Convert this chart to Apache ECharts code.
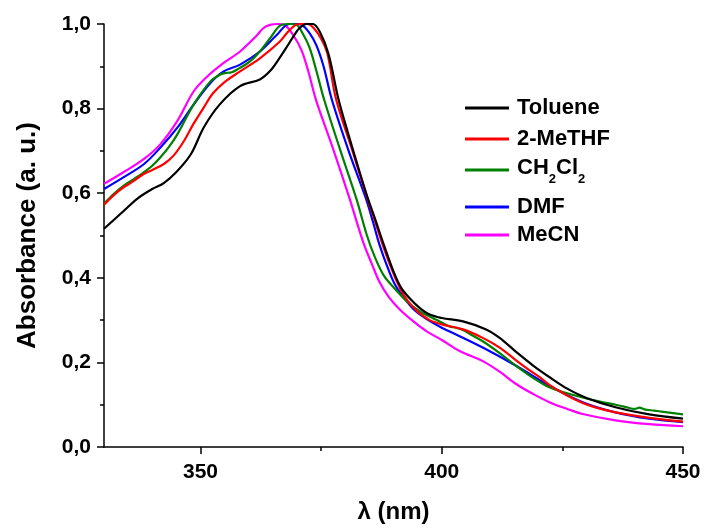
<!DOCTYPE html>
<html>
<head>
<meta charset="utf-8">
<script src="https://cdn.jsdelivr.net/npm/echarts@6/dist/echarts.min.js"></script>
<style>
html,body{margin:0;padding:0;background:#fff;}
#c{width:705px;height:529px;}
</style>
</head>
<body>
<div id="c"></div>
<script>
// ---- data ----
var seriesNames = ['Toluene', '2-MeTHF', 'CH2Cl2', 'DMF', 'MeCN'];
var seriesColors = ['#000000', '#ff0000', '#008000', '#0000ff', '#ff00ff'];

var tolL = [330,333.5,337,340,342.4,345,348,350.7,354,358.2,362.3,364.5,366.4,368,369.5,370.5,372,373.3,374.7,376.5,378.6,380.5,382.5,384.7,386,388,390,391.5,393.3,395.4,397.5,400,404.4,409.2,412,415.4,419,423,426,430,436,443,450];
var tolA = [0.516,0.552,0.588,0.61,0.624,0.65,0.692,0.756,0.81,0.853,0.869,0.89,0.92,0.948,0.975,0.99,1.0,1.0,0.982,0.93,0.822,0.745,0.668,0.587,0.545,0.478,0.415,0.378,0.352,0.329,0.313,0.305,0.297,0.278,0.258,0.225,0.192,0.16,0.138,0.116,0.094,0.077,0.067];

var redL = [330,333,336,338.3,340,342.4,344.5,346.6,348.6,350.7,352.5,354.8,358.2,362.3,366.4,368,369.5,370.5,372.2,373.5,375,376.3,378.1,381.5,384.6,386,388,390,391.5,393,395,397.5,400,404.4,408.5,412,415.4,418,420.3,422.3,425.8,429.2,432,436,443,450];
var redA = [0.573,0.605,0.628,0.646,0.655,0.669,0.69,0.724,0.765,0.803,0.835,0.861,0.888,0.919,0.958,0.98,0.996,1.0,1.0,0.99,0.965,0.93,0.822,0.7,0.587,0.54,0.47,0.41,0.372,0.345,0.32,0.3,0.29,0.278,0.258,0.235,0.205,0.183,0.165,0.147,0.123,0.104,0.093,0.082,0.069,0.06];

var grnL = [330,332,334.1,336,338.3,340,341.7,343.5,345.2,348.6,352.1,354,355,356.5,358,360.2,362.3,364.4,366.8,368.5,369.9,371.3,372.6,374,375.6,378.9,382.3,384.5,386.1,388,390.6,393,395.4,399,401.6,403,404.5,406,408.5,412,415.4,419,422.3,426,429.2,433,436,438,440,441,442,444,446,450];
var grnA = [0.575,0.598,0.618,0.632,0.65,0.665,0.685,0.71,0.739,0.81,0.865,0.88,0.884,0.886,0.895,0.911,0.935,0.966,0.998,1.0,0.998,0.975,0.944,0.89,0.822,0.704,0.587,0.5,0.45,0.405,0.37,0.342,0.321,0.3,0.285,0.282,0.276,0.266,0.25,0.222,0.192,0.163,0.141,0.127,0.117,0.107,0.1,0.095,0.09,0.093,0.089,0.086,0.083,0.077];

var bluL = [330,334.1,338.3,341.7,345.2,348.6,352.1,354.8,358.2,362.3,365.8,368.4,370,371,372.5,374,375.5,377.2,380.7,384.3,385.8,387.1,389,390.5,392.7,394.5,396.8,400,403.7,408.5,415.4,422.3,429.2,436,443,450];
var bluA = [0.61,0.638,0.669,0.708,0.755,0.81,0.861,0.888,0.904,0.935,0.974,1.0,1.0,0.998,0.98,0.95,0.9,0.822,0.7,0.587,0.53,0.478,0.418,0.38,0.345,0.322,0.303,0.282,0.262,0.235,0.192,0.145,0.106,0.082,0.067,0.059];

var magL = [330,334.1,338.3,341.7,345.2,348.6,351.4,354.8,358.2,361.6,363,364.4,366,367.5,369.2,370.9,372.3,373.9,377.5,380.9,383.7,385.5,387.1,389,391.3,394,396.8,400,403.7,408.5,412,415.4,419,422.3,426,429.2,436,443,450];
var magA = [0.622,0.65,0.681,0.716,0.771,0.841,0.876,0.908,0.935,0.972,0.99,0.998,1.0,0.997,0.974,0.939,0.89,0.822,0.704,0.587,0.485,0.433,0.39,0.355,0.325,0.298,0.274,0.253,0.227,0.203,0.178,0.149,0.125,0.106,0.09,0.078,0.063,0.054,0.049];

var xMajorTicks = [350, 400, 450];
var xMinorTicks = [375, 425];

// ---- build chart ----
var waveLists = [tolL, redL, grnL, bluL, magL];
var absLists = [tolA, redA, grnA, bluA, magA];
function pairs(xs, ys) { return xs.map(function (x, i) { return [x, ys[i]]; }); }

var FONT = 'Liberation Sans, Arial, Helvetica, sans-serif';
var chart = echarts.init(document.getElementById('c'), null, {renderer: 'canvas'});

var series = seriesNames.map(function (n, i) {
  return {
    name: n, type: 'line', xAxisIndex: 0, yAxisIndex: 0,
    data: pairs(waveLists[i], absLists[i]),
    showSymbol: false, smooth: 0.35, clip: false,
    lineStyle: {color: seriesColors[i], width: 2.2},
    itemStyle: {color: seriesColors[i]},
    emphasis: {disabled: true}, z: 10 - i
  };
});

var legendTops = [97, 128, 157, 196, 224];
var legends = seriesNames.map(function (n, i) {
  var lg = {
    data: [n], left: 465, top: legendTops[i], padding: 0, orient: 'vertical',
    icon: 'rect', itemWidth: 44, itemHeight: 3,
    textStyle: {fontFamily: FONT, fontSize: 22, fontWeight: 'bold', color: '#000', padding: [0, 0, 0, 3]},
    selectedMode: false
  };
  if (n === 'CH2Cl2') {
    lg.formatter = function () { return '{n|CH}{s|2}{n|Cl}{s|2}'; };
    lg.textStyle.rich = {
      n: {fontFamily: FONT, fontSize: 22, fontWeight: 'bold', color: '#000', lineHeight: 26, verticalAlign: 'top'},
      s: {fontFamily: FONT, fontSize: 13, fontWeight: 'bold', color: '#000', lineHeight: 14, padding: [16, 0, 0, 0], verticalAlign: 'top'}
    };
  }
  return lg;
});

chart.setOption({
  animation: false,
  backgroundColor: '#fff',
  grid: {left: 104, right: 22, top: 24, bottom: 79, containLabel: false},
  legend: legends,
  xAxis: [{
    type: 'value', min: 330, max: 450, position: 'bottom',
    name: 'λ (nm)', nameLocation: 'middle', nameGap: 53,
    nameTextStyle: {fontFamily: FONT, fontSize: 24, fontWeight: 'bold', color: '#000'},
    axisLine: {show: true, onZero: false, lineStyle: {color: '#000', width: 1.5}},
    axisTick: {show: true, length: 7, customValues: xMajorTicks, lineStyle: {color: '#000', width: 1.5}},
    axisLabel: {show: true, customValues: xMajorTicks, margin: 15, fontFamily: FONT, fontSize: 21, fontWeight: 'bold', color: '#000'},
    splitLine: {show: false}
  }, {
    type: 'value', min: 330, max: 450, position: 'bottom',
    axisLine: {show: false},
    axisTick: {show: true, length: 4, customValues: xMinorTicks, lineStyle: {color: '#000', width: 1.5}},
    axisLabel: {show: false},
    splitLine: {show: false}
  }],
  yAxis: [{
    type: 'value', min: 0, max: 1, interval: 0.2,
    name: 'Absorbance (a. u.)', nameLocation: 'middle', nameGap: 63,
    nameTextStyle: {fontFamily: FONT, fontSize: 26, fontWeight: 'bold', color: '#000'},
    axisLine: {show: true, lineStyle: {color: '#000', width: 1.5}},
    axisTick: {show: true, length: 7, lineStyle: {color: '#000', width: 1.5}},
    minorTick: {show: true, splitNumber: 2, length: 4, lineStyle: {color: '#000', width: 1.5}},
    axisLabel: {margin: 13, fontFamily: FONT, fontSize: 21, fontWeight: 'bold', color: '#000',
      formatter: function (v) { return v.toFixed(1).replace('.', ','); }},
    splitLine: {show: false}
  }],
  series: series
});
</script>
</body>
</html>
